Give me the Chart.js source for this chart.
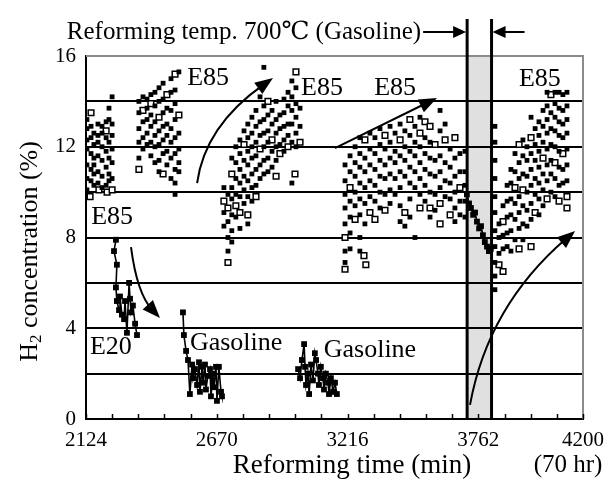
<!DOCTYPE html>
<html>
<head>
<meta charset="utf-8">
<script src="https://cdn.jsdelivr.net/npm/chart.js@4/dist/chart.umd.min.js"></script>
<style>
  html, body { margin: 0; padding: 0; background: #fff; }
  canvas { display: block; }
</style>
</head>
<body>
<canvas id="chart" width="606" height="489"></canvas>
<script>
// ---- Axis ranges and tick labels ----
const xRange = [2124, 4200];
const xTickLabels = [2124, 2670, 3216, 3762, 4200];
const xMinorIntervals = 19;
const yRange = [0, 16];
const yLabelStep = 4;
const yGridStep = 2;

// Period reformed at 700 °C on gasoline (min)
const band700C = [3716, 3818];

// ---- E85 runs: GC sample columns [time (min), H2 % values] (filled markers) ----
const e85Columns = [
  [2128, [13.2, 12.8, 12.3, 11.9, 11.2, 10.6, 10.1]],
  [2145, [12.9, 12.4, 11.7, 11.0, 10.5]],
  [2157, [12.6, 12.1, 11.5, 11.2, 10.8, 10.3]],
  [2174, [13.0, 12.5, 12.2, 11.6, 10.9, 10.4]],
  [2191, [12.9, 12.6, 12.0, 11.4, 10.7, 10.2]],
  [2208, [13.1, 12.4, 11.8, 11.1, 10.3]],
  [2220, [13.7, 13.2, 12.2, 11.5, 10.8, 10.5]],
  [2233, [14.2, 13.0, 12.5, 11.9, 11.3, 10.6]],

  [2345, [14.0, 13.5, 12.8, 12.2, 11.5]],
  [2362, [14.2, 13.1, 12.4, 11.9]],
  [2379, [14.1, 13.7, 13.2, 12.6, 12.1]],
  [2395, [14.3, 13.4, 12.9, 12.2, 11.6]],
  [2412, [14.4, 13.8, 13.1, 12.5, 12.0, 11.3]],
  [2429, [14.6, 14.0, 12.7, 12.1, 11.4, 10.9]],
  [2446, [14.8, 14.1, 13.5, 12.9, 12.3, 11.7]],
  [2462, [13.7, 13.0, 12.5, 11.8, 11.2]],
  [2479, [15.0, 14.4, 13.6, 12.8, 12.2, 11.5, 10.6]],
  [2496, [14.5, 13.9, 13.2, 12.4, 11.7, 11.0, 10.4, 9.9]],
  [2512, [15.3, 12.6, 11.9, 11.3, 10.9]],

  [2700, [10.2, 9.1, 8.5]],
  [2717, [9.9, 8.7, 8.0, 7.4]],
  [2733, [11.5, 10.2, 9.7, 9.0, 8.3, 7.8]],
  [2750, [12.0, 11.3, 10.6, 9.9, 8.9]],
  [2767, [12.3, 11.7, 11.0, 10.4, 9.8, 8.4]],
  [2784, [12.7, 11.4, 10.7, 10.1, 9.5]],
  [2800, [13.0, 12.4, 11.8, 11.2, 10.5, 9.8, 8.6]],
  [2817, [13.3, 12.6, 12.0, 11.5, 10.8, 10.2, 9.6]],
  [2834, [13.6, 12.9, 12.2, 11.6, 11.0, 10.3]],
  [2851, [14.2, 13.1, 12.5, 11.2, 10.6]],
  [2867, [15.5, 13.8, 13.2, 12.6, 12.0, 11.4, 10.8]],
  [2884, [13.4, 12.7, 12.2, 11.5, 10.9]],
  [2901, [13.6, 13.0, 11.8, 11.1]],
  [2918, [14.0, 13.2, 12.6, 12.0, 11.4]],
  [2934, [13.4, 12.8, 12.1]],
  [2951, [14.1, 13.5, 12.9, 12.3, 11.8]],
  [2968, [14.4, 13.8, 13.0, 12.5]],
  [2984, [14.9, 14.2, 13.6, 13.0, 12.2, 10.4]],
  [3001, [14.6, 13.9, 13.3, 12.6, 12.0]],
  [3018, [13.7, 12.9]],

  [3206, [11.2, 10.5, 9.9, 9.3, 8.6, 7.4, 6.9]],
  [3227, [11.6, 10.9, 9.6, 8.9, 8.2, 7.5]],
  [3248, [12.0, 11.3, 10.7, 10.0, 9.4]],
  [3268, [12.4, 11.7, 11.1, 10.4, 9.7, 9.0, 8.0, 7.4]],
  [3289, [11.5, 10.9, 10.2, 9.5, 8.6]],
  [3310, [12.6, 11.9, 11.2, 10.5, 9.8]],
  [3331, [12.4, 11.7, 11.0, 10.3, 9.6]],
  [3352, [12.8, 12.1, 11.4, 10.7, 10.0, 9.3]],
  [3373, [11.9, 11.2, 10.6, 9.9]],
  [3394, [12.9, 12.2, 11.5, 10.8, 10.1, 9.5]],
  [3415, [12.6, 11.8, 11.3, 10.6, 9.9]],
  [3436, [13.0, 11.6, 10.9, 10.2, 9.4, 8.7]],
  [3456, [12.7, 12.0, 11.4, 10.7, 8.5]],
  [3477, [12.5, 11.8, 11.1, 10.4, 9.7, 8.9]],
  [3498, [12.9, 12.2, 11.6, 10.9, 10.2, 8.0]],
  [3519, [13.3, 12.0, 11.3, 10.6, 9.9]],
  [3540, [12.4, 11.7, 11.0, 10.3, 9.6]],
  [3561, [12.2, 11.5, 10.8, 10.0, 8.9]],
  [3582, [11.4, 10.7, 9.9, 9.2]],
  [3603, [13.6, 12.7, 11.6, 10.9, 10.2]],
  [3624, [13.0, 11.3, 10.5, 9.8]],
  [3645, [11.9, 11.1, 10.4, 9.7]],
  [3665, [11.5, 10.7, 10.0, 9.3, 8.7]],
  [3686, [11.7, 10.9, 9.6, 9.0]],
  [3707, [11.8, 10.9, 10.3, 9.6, 8.9]],

  [3832, [12.9, 12.2, 11.4, 10.6, 9.8, 9.1, 8.3, 7.6, 6.9, 6.3, 5.7]],
  [3849, [8.6, 8.0, 7.3]],
  [3866, [9.4, 8.1, 7.5]],
  [3883, [10.3, 9.6, 8.9, 8.2, 7.6]],
  [3899, [11.0, 10.4, 9.7, 9.0, 8.3, 7.4]],
  [3916, [11.7, 10.9, 9.5, 8.8, 7.9]],
  [3933, [11.3, 10.6, 9.8, 9.1, 8.4]],
  [3949, [12.3, 11.6, 10.8, 9.4, 8.6, 7.9]],
  [3966, [12.0, 11.4, 10.7, 10.0, 9.2, 8.5]],
  [3983, [13.3, 11.7, 11.0, 10.3, 9.5, 8.8]],
  [4000, [12.8, 12.1, 11.4, 10.6, 9.9]],
  [4016, [13.1, 12.5, 11.8, 11.1, 10.4, 9.7, 9.0]],
  [4033, [13.6, 12.9, 12.2, 10.8, 10.1, 9.4]],
  [4050, [14.4, 13.8, 13.2, 12.6, 11.9, 11.2, 10.5]],
  [4066, [13.5, 12.8, 12.1, 11.4, 10.8, 10.0]],
  [4083, [14.4, 13.9, 13.3, 12.7, 12.0, 10.6, 9.8]],
  [4100, [14.4, 13.7, 13.1, 12.5, 11.8, 11.1, 10.3]],
  [4116, [14.3, 13.6, 13.0, 12.4, 11.0, 10.4]],
  [4133, [14.4, 13.8, 13.2, 12.6, 11.9, 11.2, 10.5]]
];

// ---- E85 samples from the second analyser channel (open markers) [time, H2 %] ----
const e85OpenPoints = [
  [2145, 13.5], [2141, 9.8], [2178, 10.1], [2208, 12.7], [2212, 10.0], [2233, 10.1],
  [2345, 11.0], [2362, 13.6], [2395, 13.9], [2429, 13.3], [2446, 10.8], [2462, 14.3],
  [2496, 15.2], [2512, 13.4],
  [2700, 9.6], [2717, 9.3], [2717, 6.9], [2733, 10.8], [2750, 9.4], [2767, 9.1],
  [2784, 12.1], [2800, 9.0], [2834, 9.8], [2851, 11.9], [2884, 14.0], [2901, 12.3],
  [2918, 10.7], [2934, 11.7], [2968, 12.0], [3001, 15.3], [2997, 10.8], [3018, 12.2],
  [3206, 8.0], [3206, 6.6], [3227, 10.2], [3248, 8.8], [3289, 12.3], [3285, 7.2],
  [3293, 6.8], [3310, 9.1], [3331, 8.8], [3373, 12.5], [3373, 9.2], [3436, 12.3],
  [3456, 9.1], [3477, 13.2], [3519, 12.6], [3519, 9.3], [3540, 13.1], [3561, 12.9],
  [3561, 9.3], [3582, 12.1], [3603, 9.5], [3603, 8.6], [3624, 12.3], [3645, 9.0],
  [3665, 12.4], [3686, 10.2],
  [3849, 6.8], [3866, 8.7], [3866, 6.5], [3916, 10.2], [3933, 12.1], [3933, 7.5],
  [3949, 10.1], [3983, 12.4], [3983, 7.6], [4000, 9.1], [4033, 11.5], [4050, 9.7],
  [4066, 14.3], [4083, 11.3], [4100, 9.6], [4116, 11.7], [4133, 9.8], [4133, 9.3]
];

// ---- Connected runs [time, H2 %] ----
const e20Run = [
  [2249, 7.9], [2241, 7.4], [2253, 6.8], [2249, 5.8], [2253, 5.2], [2262, 4.8],
  [2266, 5.4], [2274, 4.6], [2283, 4.4], [2287, 5.2], [2295, 3.8], [2304, 6.0],
  [2308, 5.3], [2312, 4.7], [2320, 5.0], [2329, 4.2], [2337, 3.7]
];
const gasolineRun1 = [
  [2529, 4.7], [2533, 3.7], [2542, 3.0], [2550, 2.6], [2558, 1.1], [2567, 2.4],
  [2571, 1.8], [2579, 2.2], [2588, 1.5], [2596, 2.5], [2600, 1.2], [2609, 2.3],
  [2613, 1.6], [2621, 2.4], [2625, 1.3], [2633, 1.9], [2642, 2.2], [2646, 1.0],
  [2654, 2.0], [2658, 1.4], [2667, 2.3], [2671, 0.8], [2679, 2.3], [2688, 1.2], [2692, 1.0]
];
const gasolineRun2 = [
  [3010, 2.2], [3018, 1.8], [3026, 2.6], [3035, 3.3], [3039, 2.3], [3043, 1.5],
  [3051, 2.0], [3056, 1.1], [3064, 2.4], [3072, 1.7], [3080, 2.9], [3085, 2.6],
  [3093, 2.0], [3097, 1.5], [3105, 2.3], [3114, 1.8], [3118, 1.3], [3126, 2.0],
  [3135, 1.6], [3139, 1.1], [3147, 1.8], [3156, 1.2], [3164, 1.6], [3172, 1.1]
];
const gasoline700Run = [
  [3715, 9.9], [3724, 9.5], [3732, 9.3], [3741, 9.0], [3749, 9.1], [3757, 8.7],
  [3766, 8.4], [3774, 8.5], [3782, 8.1], [3790, 7.8], [3799, 7.6], [3807, 7.4], [3815, 7.5]
];

// ---- Build chart points ----
const toXY = pairs => pairs.map(([t, h]) => ({ x: t, y: h }));
const e85Solid = e85Columns.flatMap(([t, hs]) => hs.map(h => ({ x: t, y: h })));

const SERIF = '"Liberation Serif", "Times New Roman", "DejaVu Serif", serif';

function runDataset(pairs) {
  return {
    data: toXY(pairs),
    showLine: true,
    borderColor: '#000',
    borderWidth: 1.6,
    pointStyle: 'rect',
    pointRadius: 4.1,
    pointBackgroundColor: '#000',
    pointBorderColor: '#000',
    pointBorderWidth: 0,
    tension: 0
  };
}

// Annotation texts in data units
const annotationTexts = [
  ['E85', 2233, 8.9], ['E20', 2228, 3.17],
  ['E85', 2634, 15.03], ['E85', 3110, 14.6], ['E85', 3415, 14.6], ['E85', 4020, 14.98],
  ['Gasoline', 2751, 3.35], ['Gasoline', 3310, 3.04]
];
// Curved arrows: start, control, tip (data units)
const annotationArrows = [
  [[2312, 7.58], [2337, 5.55], [2433, 4.45]],
  [[2588, 10.4], [2621, 12.91], [2905, 15.03]],
  [[3164, 11.94], [3377, 13.05], [3590, 14.15]],
  [[3728, 0.62], [3803, 4.98], [4167, 8.29]]
];

function arrowHead(ctx, tipX, tipY, fromX, fromY, len, half) {
  const a = Math.atan2(tipY - fromY, tipX - fromX);
  ctx.beginPath();
  ctx.moveTo(tipX, tipY);
  ctx.lineTo(tipX - len * Math.cos(a) + half * Math.sin(a), tipY - len * Math.sin(a) - half * Math.cos(a));
  ctx.lineTo(tipX - len * Math.cos(a) - half * Math.sin(a), tipY - len * Math.sin(a) + half * Math.cos(a));
  ctx.closePath();
  ctx.fill();
}

const decorations = {
  id: 'decorations',
  beforeDraw(chart) {
    const { ctx, chartArea: a, scales: { x } } = chart;
    ctx.save();
    ctx.fillStyle = '#fff';
    ctx.fillRect(0, 0, chart.width, chart.height);
    const l = x.getPixelForValue(band700C[0]);
    const r = x.getPixelForValue(band700C[1]);
    ctx.fillStyle = '#e0e0e0';
    ctx.fillRect(l, a.top, r - l, a.bottom - a.top);
    ctx.restore();
  },
  beforeDatasetsDraw(chart) {
    const { ctx, chartArea: a, scales: { x } } = chart;
    ctx.save();
    // grey top / right frame
    ctx.strokeStyle = '#8c8c8c';
    ctx.lineWidth = 2;
    ctx.beginPath();
    ctx.moveTo(a.left, a.top);
    ctx.lineTo(a.right, a.top);
    ctx.lineTo(a.right, a.bottom);
    ctx.stroke();
    // inward tick marks on the time axis
    ctx.strokeStyle = '#000';
    ctx.lineWidth = 1.5;
    for (let i = 0; i <= xMinorIntervals; i++) {
      const v = xRange[0] + i * (xRange[1] - xRange[0]) / xMinorIntervals;
      const px = Math.round(x.getPixelForValue(v)) + 0.5;
      ctx.beginPath();
      ctx.moveTo(px, a.bottom);
      ctx.lineTo(px, a.bottom - 5);
      ctx.stroke();
    }
    // 700 °C period boundaries
    ctx.lineWidth = 3;
    band700C.forEach(v => {
      const px = x.getPixelForValue(v);
      ctx.beginPath();
      ctx.moveTo(px, 19);
      ctx.lineTo(px, a.bottom);
      ctx.stroke();
    });
    ctx.restore();
  },
  afterDatasetsDraw(chart) {
    const { ctx, scales: { x, y } } = chart;
    ctx.save();
    ctx.fillStyle = '#000';
    ctx.strokeStyle = '#000';
    ctx.font = '26px ' + SERIF;
    ctx.textAlign = 'center';
    ctx.textBaseline = 'middle';
    annotationTexts.forEach(([t, xv, yv]) => {
      ctx.fillText(t, x.getPixelForValue(xv), y.getPixelForValue(yv));
    });
    ctx.lineWidth = 2;
    annotationArrows.forEach(([s, c, e]) => {
      const sx = x.getPixelForValue(s[0]), sy = y.getPixelForValue(s[1]);
      const cx = x.getPixelForValue(c[0]), cy = y.getPixelForValue(c[1]);
      const ex = x.getPixelForValue(e[0]), ey = y.getPixelForValue(e[1]);
      // stop the shaft short of the head
      const a = Math.atan2(ey - cy, ex - cx);
      const bx = ex - 12 * Math.cos(a), by = ey - 12 * Math.sin(a);
      ctx.beginPath();
      ctx.moveTo(sx, sy);
      ctx.quadraticCurveTo(cx, cy, bx, by);
      ctx.stroke();
      arrowHead(ctx, ex, ey, cx, cy, 18, 7);
    });
    ctx.restore();
  },
  afterDraw(chart) {
    const { ctx, chartArea: a, scales: { x } } = chart;
    ctx.save();
    ctx.fillStyle = '#000';
    ctx.strokeStyle = '#000';
    // heading with arrows pointing at the 700 °C period
    const l = x.getPixelForValue(band700C[0]);
    const r = x.getPixelForValue(band700C[1]);
    ctx.font = '25px ' + SERIF;
    ctx.textAlign = 'right';
    ctx.textBaseline = 'alphabetic';
    ctx.fillText('Reforming temp. 700\u2103 (Gasoline)', l - 46, 39);
    ctx.lineWidth = 2;
    ctx.beginPath();
    ctx.moveTo(l - 44, 32); ctx.lineTo(l - 12, 32);
    ctx.moveTo(r + 12, 32); ctx.lineTo(r + 33, 32);
    ctx.stroke();
    arrowHead(ctx, l - 1, 32, l - 20, 32, 13, 6);
    arrowHead(ctx, r + 1, 32, r + 20, 32, 13, 6);

    // axis titles
    ctx.font = '27px ' + SERIF;
    ctx.textAlign = 'center';
    ctx.textBaseline = 'middle';
    ctx.fillText('Reforming time (min)', 352, 466);
    ctx.font = '25px ' + SERIF;
    ctx.fillText('(70 hr)', 568, 465);

    ctx.translate(30, (a.top + a.bottom) / 2 + 14);
    ctx.rotate(-Math.PI / 2);
    ctx.font = '26px ' + SERIF;
    const p1 = 'H', sub = '2', p2 = ' concentration (%)';
    const w1 = ctx.measureText(p1).width;
    ctx.font = '17px ' + SERIF;
    const ws = ctx.measureText(sub).width;
    ctx.font = '26px ' + SERIF;
    const w2 = ctx.measureText(p2).width;
    let start = -(w1 + ws + w2) / 2;
    ctx.textAlign = 'left';
    ctx.fillText(p1, start, 0);
    ctx.font = '17px ' + SERIF;
    ctx.fillText(sub, start + w1, 7);
    ctx.font = '26px ' + SERIF;
    ctx.fillText(p2, start + w1 + ws, 0);
    ctx.restore();
  }
};

new Chart(document.getElementById('chart'), {
  type: 'scatter',
  data: {
    datasets: [
      runDataset(e20Run),
      runDataset(gasolineRun1),
      runDataset(gasolineRun2),
      runDataset(gasoline700Run),
      {
        data: e85Solid,
        pointStyle: 'rect',
        pointRadius: 3.4,
        pointBackgroundColor: '#000',
        pointBorderWidth: 0,
        showLine: false
      },
      {
        data: toXY(e85OpenPoints),
        pointStyle: 'rect',
        pointRadius: 4,
        pointBackgroundColor: '#fff',
        pointBorderColor: '#000',
        pointBorderWidth: 1.5,
        showLine: false
      }
    ]
  },
  options: {
    responsive: false,
    animation: false,
    events: [],
    layout: { padding: { left: 0, top: 56, right: 23, bottom: 0 } },
    plugins: { legend: { display: false }, tooltip: { enabled: false } },
    scales: {
      x: {
        type: 'linear',
        min: xRange[0],
        max: xRange[1],
        afterBuildTicks(scale) {
          scale.ticks = xTickLabels.map(v => ({ value: v }));
        },
        afterFit(scale) {
          scale.height = 70;
          scale.paddingLeft = 0;
          scale.paddingRight = 0;
        },
        ticks: {
          autoSkip: false,
          maxRotation: 0,
          padding: 9,
          color: '#000',
          font: { family: SERIF, size: 21 },
          callback: v => String(v)
        },
        grid: { display: false, drawTicks: false },
        border: { display: true, color: '#000', width: 2 }
      },
      y: {
        min: yRange[0],
        max: yRange[1],
        afterBuildTicks(scale) {
          const t = [];
          for (let v = yRange[0]; v <= yRange[1]; v += yGridStep) t.push({ value: v });
          scale.ticks = t;
        },
        afterFit(scale) {
          scale.width = 86;
          scale.paddingTop = 0;
          scale.paddingBottom = 0;
        },
        ticks: {
          padding: 10,
          color: '#000',
          font: { family: SERIF, size: 21 },
          callback: v => (v % yLabelStep === 0 ? String(v) : '')
        },
        grid: {
          drawTicks: false,
          lineWidth: 2,
          color: c => (c.tick && (c.tick.value === yRange[0] || c.tick.value === yRange[1])) ? 'rgba(0,0,0,0)' : '#000'
        },
        border: { display: true, color: '#000', width: 2 }
      }
    }
  },
  plugins: [decorations]
});
</script>
</body>
</html>
